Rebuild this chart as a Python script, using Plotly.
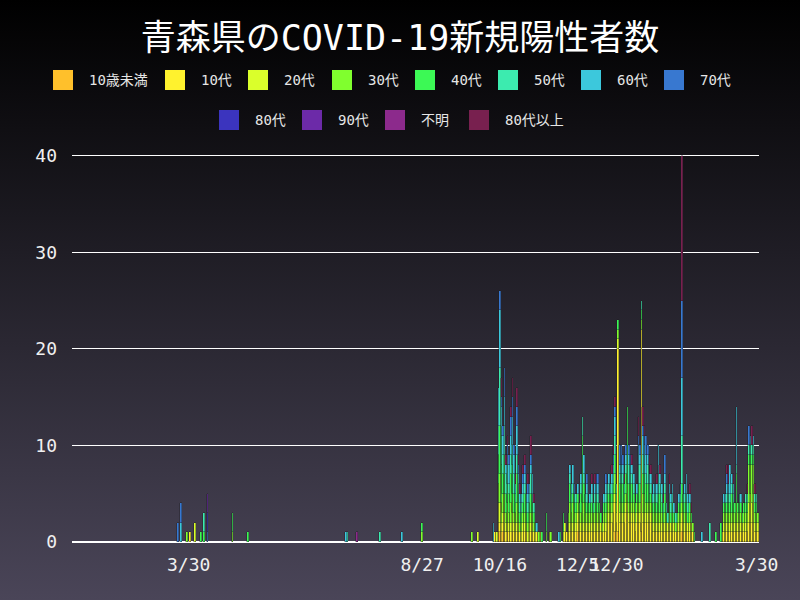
import base64
import pandas as pd
import plotly.graph_objects as go

# ---------------- data ----------------
early_dates = ["2020-03-23", "2020-03-25", "2020-03-29", "2020-03-31", "2020-04-03",
               "2020-04-07", "2020-04-09", "2020-04-11", "2020-04-27", "2020-05-07",
               "2020-07-09", "2020-07-10", "2020-07-16", "2020-07-31", "2020-08-14",
               "2020-08-27", "2020-09-28", "2020-10-02"]
block_b = list(pd.date_range("2020-10-12", "2020-11-12").strftime("%Y-%m-%d"))
block_c = ["2020-11-15", "2020-11-17", "2020-11-18", "2020-11-23", "2020-11-24"]
block_d = list(pd.date_range("2020-11-26", "2021-02-18").strftime("%Y-%m-%d"))
block_e = ["2021-02-23", "2021-02-28", "2021-03-04", "2021-03-07"]
block_f = list(pd.date_range("2021-03-08", "2021-03-31").strftime("%Y-%m-%d"))
dates = early_dates + block_b + block_c + block_d + block_e + block_f

under10 = ([0,0,0,0,0,0,0,0,0,0,0,0,0,0,0,0,0,0] +
           [0,0,0,1,1,0,1,0,0,1, 0,0,1,0,0,0,0,0,0,0, 0,0,0,0,0,0,0,0,0,0, 0,0] +
           [0,0,0,0,0] +
           [0,0,0,0,0,0,0,0,0,1, 0,0,0,0,0,0,0,0,0,0, 0,0,0,0,0,0,0,0,0,0,
            0,0,0,1,0,1,0,0,0,0, 0,0,0,0,0,0,0,0,0,0, 1,0,0,0,0,0,0,0,0,0,
            0,0,0,0,0,0,0,0,0,0, 0,0,0,0,0,0,1,0,0,0, 0,0,0,0,0] +
           [0,0,0,0] +
           [0,0,0,0,0,0,0,0,0,0, 0,0,0,0,0,0,0,0,0,0, 0,0,0,0])
teens = ([0,0,0,1,0,0,0,0,0,0,0,0,0,0,0,0,0,0] +
         [0,1,0,1,1,1,1,1,1,0, 1,1,1,1,1,1,1,1,0,1, 1,1,0,1,1,1,1,0,1,0, 1,0] +
         [0,0,0,0,0] +
         [0,1,1,1,1,1,1,1,1,1, 1,1,1,1,1,1,1,1,1,1, 1,1,1,1,1,1,1,1,2,2,
          2,2,3,3,2,19,2,2,2,2, 3,3,2,2,2,2,1,2,2,2, 21,2,2,2,2,2,2,1,1,1,
          1,1,1,1,1,1,1,1,1,1, 1,1,1,1,1,1,1,1,1,1, 1,1,1,1,0] +
         [0,0,0,0] +
         [1,1,1,1,1,1,1,1,1,1, 1,1,1,1,1,1,1,2,2,2, 2,1,1,1])
twenties = ([0,0,0,0,2,0,0,0,0,0,0,0,0,0,0,0,0,1] +
            [0,0,1,2,2,1,1,2,1,1, 1,1,1,1,1,1,1,0,1,1, 1,0,1,1,1,1,0,1,0,0, 0,0] +
            [0,1,0,0,0] +
            [1,1,0,1,1,1,1,1,1,1, 1,1,1,1,1,1,1,1,1,1, 1,1,1,1,1,0,1,1,1,1,
             1,1,1,1,1,1,1,1,1,1, 1,1,1,1,1,1,1,1,1,1, 0,1,1,1,1,1,1,1,1,1,
             1,1,1,1,1,1,1,1,1,1, 1,1,0,1,1,1,1,1,1,1, 1,1,1,0,0] +
            [0,0,0,0] +
            [0,1,1,1,1,1,1,1,1,1, 1,1,1,1,1,1,1,2,3,2, 3,1,1,1])
thirties = ([0,0,1,0,0,0,0,0,1,0,0,0,0,0,0,1,1,0] +
            [0,0,0,2,3,2,2,2,1,2, 1,2,2,1,1,2,1,1,1,1, 1,1,1,1,1,1,1,0,0,1, 0,0] +
            [1,0,1,0,0] +
            [0,0,0,1,2,1,2,1,1,1, 1,1,2,2,1,1,1,1,1,1, 1,1,1,1,0,1,1,1,1,1,
             1,1,1,2,1,1,1,1,1,1, 1,2,1,1,1,1,1,1,1,1, 1,2,2,1,1,1,1,1,1,1,
             1,1,1,1,0,1,0,0,1,0, 1,0,1,0,1,1,1,1,1,1, 0,1,0,1,0] +
            [0,0,0,0] +
            [0,1,1,1,1,1,1,1,1,2, 1,1,1,0,1,1,1,4,3,4, 3,1,1,1])
forties = ([0,0,0,0,0,1,1,0,2,1,0,0,0,0,0,1,0,0] +
           [0,0,0,3,5,4,2,4,2,2, 2,3,3,2,1,3,2,1,1,1, 2,1,1,1,2,1,1,0,0,0, 0,1] +
           [2,0,0,0,1] +
           [2,0,0,0,2,1,1,1,1,1, 1,2,7,2,1,1,1,1,1,0, 1,1,1,1,1,0,1,1,1,1,
            1,1,1,2,1,1,2,2,2,1, 2,8,2,2,2,1,1,1,2,2, 1,2,2,2,2,1,1,1,1,1,
            1,2,2,1,1,2,1,0,1,1, 1,1,0,1,1,1,2,1,1,1, 1,1,1,0,1] +
           [0,0,1,2] +
           [0,1,1,1,1,1,2,1,1,3, 1,1,1,1,1,1,1,1,1,1, 1,1,1,0])
fifties = ([0,0,0,0,0,0,2,0,0,0,0,1,0,1,0,0,0,0] +
           [0,0,0,3,6,3,2,3,2,2, 1,2,2,2,1,2,1,1,1,1, 1,1,1,1,2,1,1,1,0,0, 0,0] +
           [0,0,0,0,0] +
           [0,0,0,0,1,1,1,1,1,0, 0,1,2,1,1,1,0,0,1,1, 1,1,1,0,0,0,0,1,1,1,
            0,1,1,2,1,0,1,1,1,1, 1,0,2,1,1,1,0,0,2,2, 1,2,1,1,2,1,1,0,1,1,
            1,2,1,1,1,1,1,1,1,1, 1,0,1,0,0,1,5,1,1,1, 1,0,0,0,0] +
           [0,2,0,0] +
           [0,0,0,1,1,1,1,1,0,1, 0,1,0,0,0,1,1,1,1,1, 1,1,1,0])
sixties = ([0,2,0,0,0,0,0,0,0,0,1,0,0,0,1,0,0,0] +
           [2,0,0,4,6,3,2,3,1,1, 2,2,3,2,1,3,1,1,1,1, 1,1,1,1,1,2,0,0,1,0, 0,0] +
           [0,0,0,1,0] +
           [0,0,0,0,1,1,2,0,0,1, 0,1,0,2,0,1,0,1,1,0, 1,1,1,0,0,0,1,1,0,1,
            1,1,1,2,0,0,1,1,1,0, 1,0,1,1,1,1,0,1,2,1, 0,2,2,2,1,1,1,1,1,1,
            1,3,1,1,0,1,0,0,1,1, 1,1,0,0,1,0,6,0,1,2, 1,1,0,0,0] +
           [1,0,0,0] +
           [0,1,1,1,1,3,1,1,0,6, 0,0,1,0,0,0,0,0,1,0, 1,0,0,0])
seventies = ([2,2,0,0,0,0,0,1,0,0,0,0,0,0,0,0,0,0] +
             [0,0,0,0,2,1,1,3,0,1, 1,2,2,1,0,2,1,0,0,1, 1,0,1,0,1,0,0,0,0,0, 0,0] +
             [0,0,0,0,0] +
             [0,0,0,0,0,0,0,1,0,0, 0,0,0,0,0,1,0,0,0,0, 0,1,1,0,0,0,0,1,0,0,
              0,0,1,1,0,0,2,2,1,0, 1,0,1,1,0,0,0,0,1,1, 0,1,1,2,1,0,0,0,0,0,
              0,0,0,0,0,2,0,0,0,0, 0,0,0,0,0,1,8,0,0,0, 0,0,0,0,0] +
             [0,0,0,0] +
             [0,0,0,1,0,0,0,0,0,0, 0,0,0,0,0,0,0,2,0,0, 0,0,0,0])
# categories used only in the early period (aligned with early_dates)
eighties = [0,0,0,0,0,0,0,2,0,0,0,0,0,0,0,0,0,0]
nineties = [0,0,0,0,0,0,0,2,0,0,0,0,0,0,0,0,0,0]
unknown = [0,0,0,0,0,0,0,0,0,0,0,0,1,0,0,0,0,0]
over80 = ([0,0,0,0,0,0,0,0,0,0,0,0,0,0,0,0,0,0] +
          [0,0,0,0,0,2,0,0,1,1, 0,1,2,0,1,2,1,1,0,1, 1,0,1,0,2,0,1,0,0,0, 0,0] +
          [0,0,0,0,0] +
          [0,0,0,0,0,0,0,0,0,0, 0,0,0,0,0,0,0,0,1,0, 1,0,0,0,0,0,0,0,0,0,
           0,1,1,1,0,0,0,0,0,1, 0,0,0,0,1,0,0,0,2,0, 0,2,1,0,0,2,1,0,0,0,
           1,0,1,0,1,0,0,0,1,0, 0,0,0,0,0,0,15,0,0,0, 0,1,1,0,0] +
          [0,0,0,0] +
          [0,0,0,1,2,0,0,1,0,0, 0,0,0,0,0,0,1,0,0,2, 0,1,0,0])

series_names = ["10歳未満", "10代", "20代", "30代", "40代", "50代", "60代", "70代",
                "80代", "90代", "不明", "80代以上"]
series_colors = ["#FFC02B", "#FFF22E", "#DAFF2B", "#80FF2E", "#3CF955", "#3CEBAF",
                 "#3CC8DC", "#3878D0", "#3B34BE", "#6C2AA8", "#8C2A8C", "#78204F"]

tick_dates = ["2020-03-30", "2020-08-27", "2020-10-16", "2020-12-05", "2020-12-30", "2021-03-30"]
tick_labels = ["3/30", "8/27", "10/16", "12/5", "12/30", "3/30"]
y_ticks = [0, 10, 20, 30, 40]

title_text = "青森県のCOVID-19新規陽性者数"

# ---------------- figure ----------------
W, H = 800, 600
L, R, T, B = 72, 41, 153, 58
PW, PH = W - L - R, H - T - B
FONT = "DejaVu Sans Mono, Noto Sans CJK JP, sans-serif"


def px_x(px):
    return (px - L) / PW


def px_y(py):
    return (H - B - py) / PH


values = [under10, teens, twenties, thirties, forties, fifties, sixties, seventies,
          eighties, nineties, unknown, over80]

fig = go.Figure()
for name, col, vals in zip(series_names, series_colors, values):
    xs = dates if len(vals) == len(dates) else early_dates
    ys = [v if v else None for v in vals]
    fig.add_trace(go.Bar(x=xs, y=ys, name=name, marker_color=col,
                         marker_line_color="rgba(25,25,30,0.85)", marker_line_width=0.4,
                         showlegend=False))

# background gradient
svg = ('<svg xmlns="http://www.w3.org/2000/svg" width="800" height="600">'
       '<defs><linearGradient id="g" x1="0" y1="0" x2="0" y2="1">'
       '<stop offset="0" stop-color="#000000"/><stop offset="1" stop-color="#4a4558"/>'
       '</linearGradient></defs><rect width="800" height="600" fill="url(#g)"/></svg>')
src = "data:image/svg+xml;base64," + base64.b64encode(svg.encode()).decode()
fig.add_layout_image(dict(source=src, xref="paper", yref="paper",
                          x=px_x(0), y=px_y(0), sizex=W / PW, sizey=H / PH,
                          xanchor="left", yanchor="top", sizing="stretch", layer="below"))

# custom legend (two centred rows, as in the original)
legend_pos = [(53, 80), (165, 80), (248, 80), (332, 80), (415, 80), (498, 80), (581, 80), (664, 80),
              (219, 120), (302, 120), (385, 120), (469, 120)]
for (lx, ly), name, col in zip(legend_pos, series_names, series_colors):
    fig.add_shape(type="rect", xref="paper", yref="paper",
                  x0=px_x(lx), x1=px_x(lx + 20), y0=px_y(ly - 10), y1=px_y(ly + 10),
                  fillcolor=col, line_width=0, layer="above")
    fig.add_annotation(xref="paper", yref="paper", x=px_x(lx + 34), y=px_y(ly),
                       text=name, showarrow=False, xanchor="left", yanchor="middle",
                       font=dict(family=FONT, size=14, color="#e6e6e6"))

fig.update_layout(
    width=W, height=H,
    margin=dict(l=L, r=R, t=T, b=B),
    barmode="stack", bargap=0,
    paper_bgcolor="#000000", plot_bgcolor="rgba(0,0,0,0)",
    title=dict(text=title_text, x=0.5, xanchor="center", y=1 - 38 / H, yanchor="middle",
               yref="container", font=dict(family=FONT, size=35, color="#ffffff")),
    font=dict(family=FONT, color="#f0f0f0"),
    showlegend=False,
    xaxis=dict(type="date", range=["2020-01-15", "2021-03-31 12:00"],
               tickmode="array", tickvals=tick_dates, ticktext=tick_labels, tickangle=0,
               showgrid=False, zeroline=False, showline=False, ticks="",
               ticklabelstandoff=10, tickfont=dict(size=18, color="#f0f0f0")),
    yaxis=dict(range=[0, 40.3], tickmode="array", tickvals=y_ticks,
               showgrid=True, gridcolor="#ffffff", gridwidth=1,
               zeroline=True, zerolinecolor="#ffffff", zerolinewidth=2,
               ticks="", ticklabelstandoff=14, tickfont=dict(size=18, color="#f0f0f0")),
)

fig.write_html("out.html", config={"displayModeBar": False},
               post_script="document.body.style.margin='0';document.body.style.overflow='hidden';")
